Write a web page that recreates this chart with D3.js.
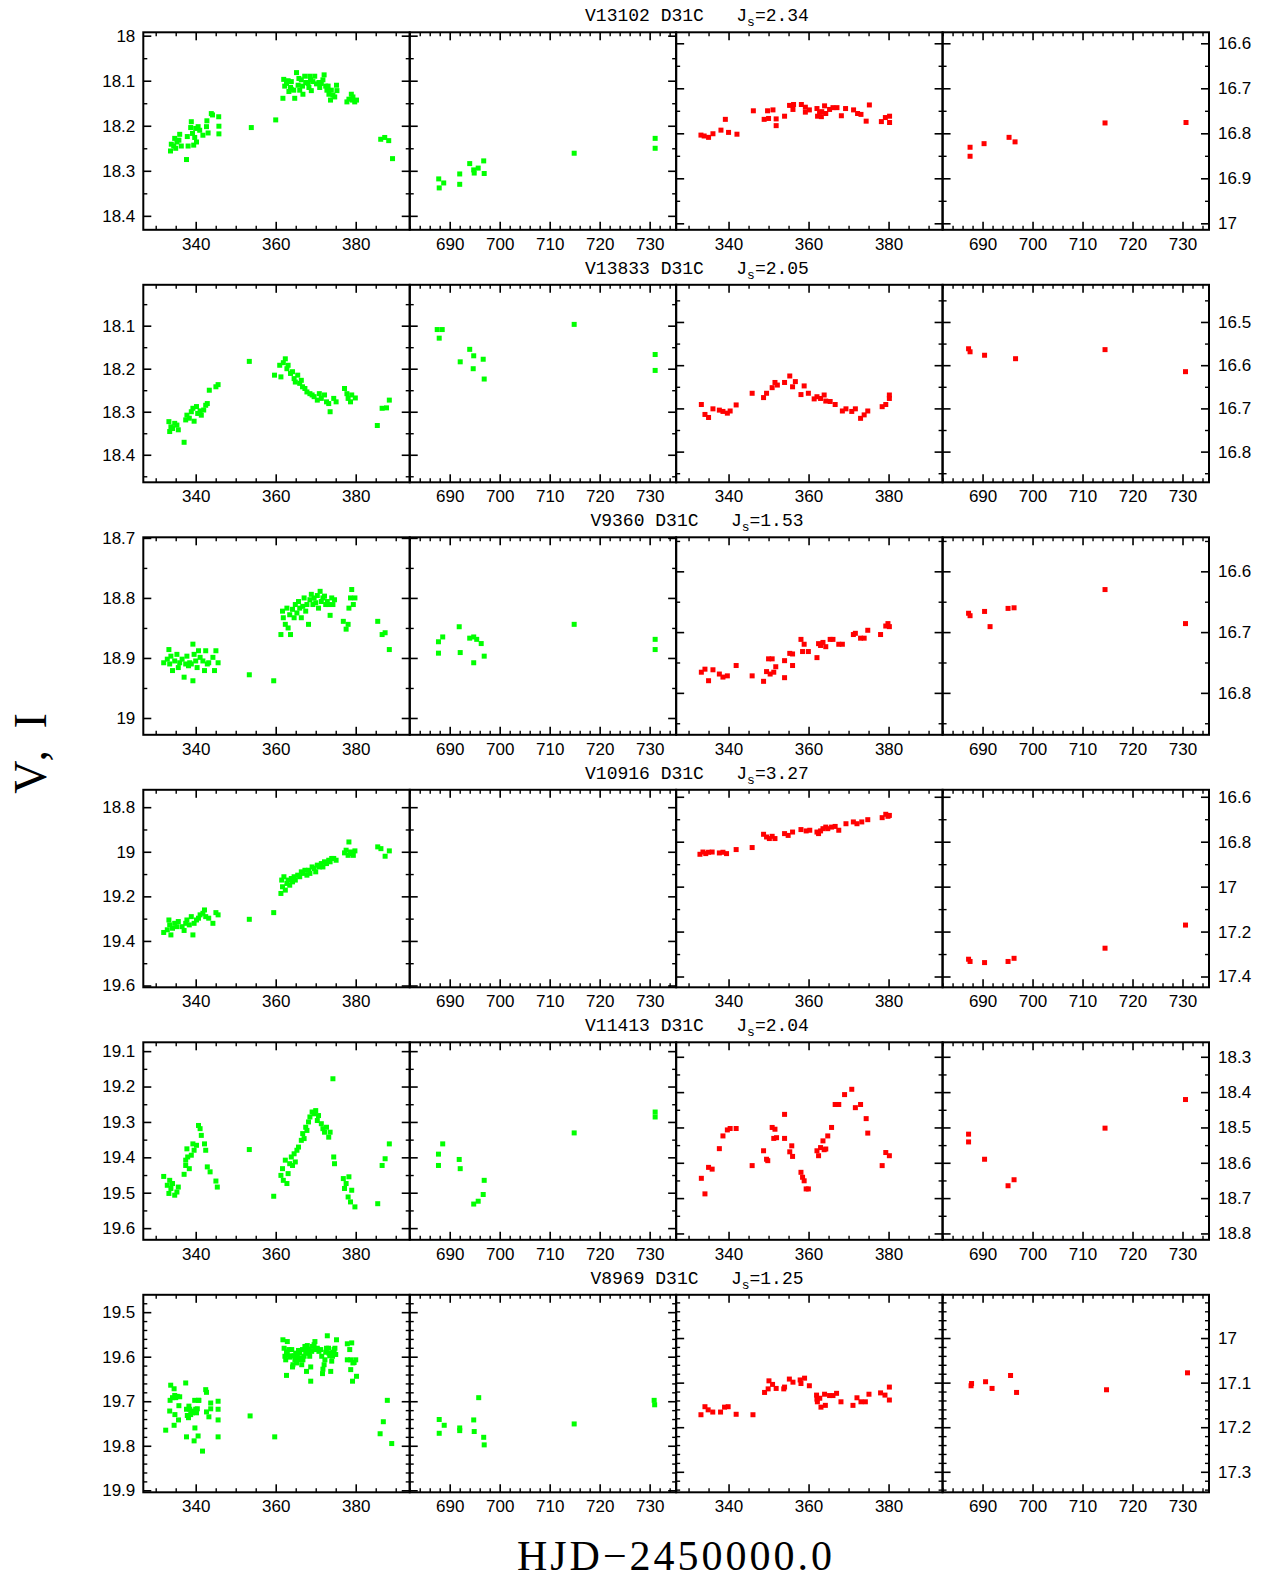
<!DOCTYPE html>
<html><head><meta charset="utf-8">
<script src="https://cdn.jsdelivr.net/npm/d3@7"></script>
<style>body{margin:0;background:#fff}</style>
</head><body>
<script>
// ---------- labels / configuration data ----------
const starNames = ["V13102 D31C","V13833 D31C","V9360 D31C","V10916 D31C","V11413 D31C","V8969 D31C"];
const jsValues = ["2.34","2.05","1.53","3.27","2.04","1.25"];
const vDomains = [[17.9925,18.431],[18.005,18.464],[18.699,19.028],[18.722,19.608],[19.075,19.633],[19.461,19.9045]];
const iDomains = [[16.5756,17.0144],[16.414,16.871],[16.544,16.869],[16.569,17.448],[18.259,18.818],[16.903,17.346]];
const majorSteps = [0.1,0.1,0.1,0.2,0.1,0.1];
const minorSteps = [0.05,0.05,0.05,0.1,0.05,0.02];
const season1Domain = [326.9, 393.5];
const season2Domain = [682, 735.3];
const season1Ticks = [340,360,380];
const season2Ticks = [690,700,710,720,730];
const season1Minor = 5;
const season2Minor = 2;
const xTitle = "HJD\u22122450000.0";
const yTitle = "V, I";

// ---------- data: [HJD-2450000, mag] ----------
const r1V1 = [[333.7,18.256],[333.9,18.241],[334.5,18.245],[334.75,18.228],[335.0,18.250],[335.3,18.236],[336.0,18.219],[335.8,18.232],[336.4,18.245],[337.7,18.275],[337.9,18.224],[338.1,18.245],[338.75,18.204],[338.9,18.191],[339.2,18.217],[339.5,18.243],[339.75,18.226],[340,18.206],[340.2,18.236],[340.6,18.202],[341,18.21],[341.8,18.221],[342.7,18.202],[342.8,18.189],[343.1,18.216],[343.9,18.173],[344.2,18.176],[345.75,18.18],[345.8,18.201],[345.8,18.218],[353.9,18.204],[360,18.187],[361.8,18.139],[362.0,18.097],[362.25,18.112],[362.7,18.106],[363.1,18.100],[363.3,18.124],[363.7,18.115],[363.9,18.102],[363.9,18.119],[364.5,18.121],[364.75,18.139],[365.2,18.082],[365.6,18.110],[365.8,18.095],[366.0,18.121],[366.4,18.098],[366.7,18.112],[366.8,18.130],[367.25,18.090],[367.5,18.104],[368.1,18.106],[368.3,18.115],[368.5,18.09],[368.7,18.098],[368.9,18.122],[369.3,18.102],[369.75,18.090],[370.2,18.107],[370.8,18.104],[371,18.115],[371.4,18.106],[371.8,18.098],[372.1,18.087],[372.5,18.112],[372.8,18.121],[373.1,18.112],[373.3,18.130],[373.7,18.143],[373.9,18.121],[374.3,18.132],[374.75,18.136],[375.2,18.110],[375.3,18.122],[377.8,18.147],[378.3,18.141],[378.9,18.130],[379.2,18.143],[379.3,18.136],[379.75,18.147],[380.2,18.143],[386.25,18.230],[387.25,18.226],[388.25,18.233],[389.2,18.273]];
const r1V2 = [[687.8,18.318],[687.9,18.338],[688.8,18.327],[692,18.307],[692,18.330],[694,18.284],[694.8,18.298],[694.9,18.305],[695.7,18.294],[696.8,18.278],[696.9,18.306],[714.9,18.261],[731.1,18.228],[731.1,18.250]];
const r1I1 = [[333.1,16.804],[333.9,16.806],[335.0,16.809],[336.1,16.801],[338.1,16.793],[339.2,16.769],[340,16.798],[342.1,16.802],[346.2,16.750],[348.9,16.769],[349.75,16.750],[350,16.767],[351.1,16.748],[351.9,16.768],[351.9,16.783],[354,16.762],[355.25,16.738],[356.1,16.747],[356.25,16.736],[358.2,16.736],[359.2,16.742],[359.2,16.753],[360.2,16.748],[362.1,16.745],[362.25,16.762],[362.75,16.753],[363.2,16.763],[363.3,16.752],[364,16.739],[364.3,16.756],[365.25,16.747],[366.1,16.743],[367.1,16.743],[368.2,16.761],[369.25,16.745],[371.25,16.748],[372.25,16.756],[373.1,16.758],[374.4,16.773],[375.2,16.737],[378.2,16.774],[379.2,16.765],[380.25,16.762],[380.25,16.776]];
const r1I2 = [[687.5,16.851],[687.5,16.831],[690.3,16.823],[695.3,16.809],[696.5,16.819],[714.5,16.777],[730.7,16.776]];

const r2V1 = [[333.3,18.323],[333.5,18.346],[333.8,18.335],[334.2,18.339],[334.75,18.327],[335.3,18.331],[335.65,18.342],[337.1,18.371],[337.5,18.319],[337.8,18.308],[338.4,18.315],[338.9,18.300],[339.3,18.292],[339.6,18.322],[340.2,18.288],[340.5,18.304],[341.1,18.298],[341.4,18.308],[342.0,18.296],[342.5,18.285],[342.9,18.281],[343.4,18.250],[345.05,18.242],[345.6,18.237],[353.4,18.183],[359.7,18.215],[361.0,18.192],[361.3,18.219],[361.9,18.186],[362.4,18.177],[362.8,18.200],[363.1,18.192],[363.7,18.211],[364.2,18.207],[364.6,18.223],[364.9,18.231],[365.5,18.215],[366.0,18.234],[366.4,18.227],[366.7,18.242],[367.3,18.246],[367.8,18.254],[368.55,18.258],[369.1,18.261],[369.6,18.265],[370.4,18.273],[370.9,18.258],[371.4,18.269],[372.2,18.261],[372.7,18.277],[373.25,18.281],[373.6,18.300],[374.5,18.269],[375.1,18.277],[377.2,18.246],[377.8,18.258],[378.1,18.269],[378.7,18.277],[379.0,18.261],[379.9,18.268],[385.4,18.332],[386.6,18.292],[387.7,18.291],[388.4,18.273]];
const r2V2 = [[687.5,18.109],[688.5,18.109],[687.9,18.129],[694.0,18.155],[694.8,18.170],[692.1,18.184],[694.7,18.200],[696.7,18.178],[696.9,18.224],[714.9,18.097],[731.1,18.167],[731.1,18.204]];
const r2I1 = [[333.2,16.691],[334.1,16.714],[335.0,16.721],[336.1,16.701],[337.7,16.704],[338.6,16.707],[339.7,16.711],[340.4,16.706],[341.9,16.692],[345.9,16.665],[348.75,16.675],[349.5,16.665],[350.9,16.652],[351.6,16.640],[352.2,16.646],[354.0,16.640],[355.3,16.625],[356.0,16.650],[356.7,16.638],[358.1,16.668],[358.9,16.648],[359.95,16.665],[361.4,16.678],[362.1,16.673],[363.0,16.677],[363.9,16.669],[364.3,16.683],[365.4,16.684],[366.65,16.691],[368.45,16.706],[369.35,16.701],[370.8,16.707],[371.7,16.701],[373.0,16.723],[373.9,16.715],[374.8,16.706],[378.4,16.696],[379.3,16.691],[380.2,16.677],[380.2,16.669]];
const r2I2 = [[687.2,16.562],[687.5,16.569],[690.4,16.577],[696.6,16.585],[714.5,16.564],[730.6,16.615]];

const r3V1 = [[332.0,18.908],[332.9,18.902],[333.3,18.886],[333.5,18.910],[333.8,18.897],[334.2,18.921],[334.75,18.905],[335.3,18.894],[335.65,18.916],[336.0,18.908],[336.6,18.902],[337.1,18.932],[337.5,18.910],[337.8,18.897],[338.2,18.913],[338.5,18.908],[338.9,18.910],[339.3,18.877],[339.3,18.938],[339.6,18.894],[340.0,18.905],[340.35,18.916],[340.7,18.888],[341.1,18.899],[341.8,18.905],[342.2,18.921],[342.5,18.888],[342.9,18.910],[343.25,18.908],[344.3,18.899],[344.7,18.921],[345.05,18.888],[345.6,18.908],[353.4,18.928],[359.5,18.938],[361.3,18.861],[361.7,18.822],[361.9,18.833],[362.4,18.844],[362.8,18.817],[363.1,18.850],[363.5,18.828],[363.7,18.861],[364.2,18.819],[364.6,18.833],[364.9,18.811],[365.3,18.825],[365.7,18.806],[366.0,18.817],[366.4,18.833],[366.75,18.814],[367.1,18.800],[367.5,18.822],[367.8,18.811],[368.2,18.844],[368.55,18.803],[368.9,18.794],[369.3,18.811],[369.6,18.800],[370.0,18.808],[370.4,18.796],[370.7,18.817],[371.1,18.789],[371.4,18.806],[371.8,18.800],[372.2,18.797],[372.5,18.811],[372.9,18.806],[373.25,18.811],[373.6,18.829],[374.0,18.800],[374.3,18.811],[374.7,18.803],[376.9,18.839],[377.6,18.852],[378.1,18.844],[378.3,18.817],[378.7,18.800],[379.0,18.786],[379.4,18.811],[379.8,18.800],[385.5,18.839],[386.6,18.861],[387.35,18.858],[388.4,18.886]];
const r3V2 = [[687.75,18.873],[688.6,18.865],[687.75,18.892],[691.9,18.848],[692.1,18.891],[694.0,18.867],[694.8,18.865],[695.4,18.869],[696.3,18.876],[696.9,18.897],[694.8,18.908],[714.9,18.844],[731.1,18.869],[731.1,18.886]];
const r3I1 = [[333.2,16.766],[334.1,16.761],[335.0,16.780],[336.1,16.762],[337.7,16.769],[338.6,16.774],[339.7,16.772],[341.9,16.755],[345.9,16.772],[348.75,16.781],[349.5,16.765],[350.0,16.744],[350.9,16.744],[350.4,16.769],[351.3,16.766],[351.8,16.757],[354.0,16.775],[354.0,16.747],[355.3,16.735],[356.0,16.755],[356.0,16.736],[358.1,16.712],[358.5,16.732],[358.9,16.720],[359.95,16.732],[362.1,16.742],[362.5,16.719],[363.0,16.722],[363.6,16.717],[364.3,16.724],[365.4,16.712],[366.1,16.712],[367.55,16.720],[368.45,16.720],[371.2,16.704],[371.7,16.702],[373.0,16.710],[373.9,16.710],[374.8,16.697],[378.0,16.704],[379.3,16.690],[379.85,16.686],[380.2,16.691]];
const r3I2 = [[687.2,16.669],[687.5,16.673],[690.4,16.666],[691.5,16.691],[695.1,16.661],[696.3,16.660],[714.5,16.630],[730.6,16.686]];

const r4V1 = [[332.0,19.362],[332.9,19.350],[333.3,19.306],[333.5,19.328],[333.8,19.373],[334.2,19.343],[334.75,19.321],[335.3,19.336],[335.65,19.313],[336.6,19.336],[337.1,19.353],[337.5,19.321],[337.8,19.306],[338.4,19.328],[338.9,19.291],[339.3,19.373],[339.6,19.321],[340.2,19.306],[340.7,19.298],[341.1,19.283],[341.8,19.276],[342.2,19.261],[342.5,19.291],[343.25,19.298],[344.3,19.321],[345.05,19.273],[345.6,19.283],[353.4,19.303],[359.5,19.273],[361.3,19.187],[361.5,19.127],[361.7,19.157],[362.05,19.112],[362.4,19.172],[362.8,19.142],[363.1,19.127],[363.5,19.150],[363.9,19.120],[364.2,19.135],[364.6,19.112],[364.9,19.127],[365.5,19.105],[366.0,19.112],[366.4,19.090],[366.75,19.097],[367.3,19.083],[367.8,19.105],[368.2,19.083],[368.55,19.097],[369.1,19.068],[369.6,19.075],[370.0,19.090],[370.4,19.060],[370.9,19.068],[371.4,19.053],[371.8,19.068],[372.2,19.045],[372.7,19.053],[373.25,19.038],[373.6,19.045],[374.0,19.030],[374.5,19.030],[375.1,19.038],[377.2,19.005],[377.6,18.993],[378.1,19.016],[378.3,18.956],[378.7,19.001],[379.0,19.008],[379.4,19.016],[379.8,18.996],[385.5,18.978],[386.3,18.986],[387.35,19.020],[388.4,18.996]];
const r4V2 = [];
const r4I1 = [[332.85,16.856],[333.6,16.846],[334.3,16.853],[335.0,16.847],[335.9,16.846],[337.7,16.850],[338.6,16.847],[339.5,16.853],[341.9,16.835],[345.9,16.826],[348.75,16.767],[349.5,16.779],[350.2,16.786],[350.9,16.776],[351.6,16.786],[354.0,16.764],[354.9,16.772],[356.0,16.757],[358.1,16.746],[359.4,16.752],[360.3,16.749],[362.1,16.757],[362.5,16.764],[363.0,16.752],[363.6,16.742],[364.3,16.735],[364.8,16.742],[365.75,16.735],[366.65,16.732],[367.55,16.749],[369.35,16.720],[371.2,16.712],[372.1,16.720],[373.3,16.712],[374.8,16.702],[378.4,16.693],[379.3,16.678],[379.85,16.687],[380.2,16.683]];
const r4I2 = [[687.2,17.323],[687.5,17.333],[690.4,17.338],[695.1,17.333],[696.3,17.319],[714.5,17.274],[730.6,17.171]];

const r5V1 = [[332.0,19.454],[332.9,19.479],[333.3,19.502],[333.5,19.465],[333.8,19.488],[334.2,19.474],[334.75,19.507],[335.3,19.498],[335.65,19.484],[337.1,19.448],[337.5,19.423],[337.5,19.408],[337.8,19.376],[338.0,19.399],[338.4,19.432],[338.9,19.394],[339.3,19.362],[339.6,19.380],[340.2,19.366],[340.7,19.310],[341.1,19.319],[341.4,19.338],[342.2,19.362],[342.5,19.380],[342.9,19.427],[343.6,19.441],[345.05,19.467],[345.4,19.484],[353.4,19.378],[359.5,19.510],[361.3,19.451],[361.7,19.432],[361.9,19.465],[362.4,19.408],[362.8,19.474],[363.1,19.446],[363.5,19.418],[363.9,19.399],[364.2,19.423],[364.6,19.390],[364.9,19.413],[365.3,19.380],[365.7,19.371],[366.4,19.352],[366.75,19.333],[367.1,19.347],[367.5,19.315],[367.8,19.324],[368.2,19.300],[368.55,19.286],[369.1,19.272],[369.6,19.277],[370.0,19.268],[370.4,19.296],[370.7,19.282],[371.4,19.305],[371.8,19.319],[372.2,19.329],[372.7,19.315],[373.25,19.343],[373.6,19.329],[374.3,19.178],[374.5,19.399],[374.7,19.418],[376.9,19.460],[377.2,19.488],[377.6,19.474],[378.1,19.512],[378.3,19.455],[378.7,19.526],[379.0,19.493],[379.8,19.540],[385.5,19.531],[386.6,19.423],[387.35,19.404],[388.4,19.362]];
const r5V2 = [[687.75,19.391],[687.75,19.423],[688.6,19.362],[691.9,19.406],[692.1,19.432],[694.8,19.532],[695.7,19.524],[696.7,19.505],[696.9,19.465],[714.9,19.331],[731.1,19.272],[731.1,19.286]];
const r5I1 = [[333.2,18.644],[334.1,18.688],[335.0,18.613],[335.9,18.618],[337.7,18.560],[338.6,18.524],[339.7,18.507],[340.4,18.503],[341.9,18.503],[345.9,18.608],[348.75,18.566],[349.5,18.590],[349.8,18.594],[350.9,18.500],[351.3,18.531],[351.6,18.505],[352.0,18.529],[354.0,18.463],[354.0,18.531],[355.3,18.569],[355.8,18.552],[356.0,18.582],[358.1,18.627],[358.5,18.641],[358.9,18.651],[359.4,18.674],[359.95,18.674],[362.1,18.566],[362.5,18.580],[363.0,18.557],[363.6,18.538],[363.9,18.563],[364.3,18.561],[364.8,18.524],[365.75,18.500],[366.65,18.435],[367.55,18.435],[369.0,18.407],[370.8,18.392],[371.7,18.444],[373.0,18.435],[374.4,18.475],[374.8,18.516],[378.4,18.608],[379.3,18.571],[380.2,18.580]];
const r5I2 = [[687.2,18.519],[687.2,18.541],[690.4,18.590],[695.1,18.665],[696.3,18.648],[714.5,18.502],[730.6,18.421]];

const r6V1 = [[332.5,19.765],[333.5,19.722],[333.6,19.698],[333.75,19.664],[334.2,19.692],[334.6,19.672],[334.6,19.754],[334.75,19.687],[334.8,19.730],[335,19.692],[335.4,19.689],[335.7,19.742],[335.8,19.710],[336,19.690],[337.5,19.659],[337.7,19.780],[337.7,19.718],[337.9,19.732],[338.2,19.737],[338.3,19.711],[338.5,19.718],[338.75,19.730],[339,19.722],[339.2,19.726],[339.6,19.789],[339.75,19.698],[339.8,19.760],[340,19.718],[340.2,19.726],[340.4,19.717],[340.6,19.778],[340.7,19.698],[340.8,19.698],[341.7,19.812],[342.5,19.674],[342.7,19.680],[342.7,19.724],[343.3,19.735],[343.75,19.704],[343.75,19.717],[345.6,19.700],[345.6,19.718],[345.6,19.742],[345.6,19.780],[353.6,19.733],[359.75,19.780],[361.8,19.562],[362.1,19.581],[362.3,19.599],[362.5,19.607],[362.7,19.589],[362.7,19.642],[362.9,19.566],[362.9,19.595],[363.3,19.584],[363.5,19.601],[363.75,19.598],[364,19.584],[364.2,19.623],[364.3,19.618],[364.6,19.598],[364.8,19.607],[365,19.592],[365.2,19.614],[365.4,19.599],[365.7,19.586],[365.8,19.607],[366,19.592],[366.25,19.603],[366.5,19.618],[366.7,19.584],[366.8,19.607],[367.1,19.599],[367.3,19.577],[367.5,19.592],[367.7,19.583],[367.7,19.633],[367.9,19.575],[368.2,19.583],[368.3,19.592],[368.5,19.599],[368.75,19.623],[368.75,19.655],[369,19.588],[369.2,19.577],[369.6,19.573],[369.8,19.566],[370,19.584],[370.4,19.581],[370.8,19.588],[371.25,19.584],[371.5,19.599],[371.7,19.638],[371.8,19.628],[372.1,19.618],[372.3,19.607],[372.5,19.590],[372.7,19.581],[372.9,19.553],[373.2,19.581],[373.3,19.592],[373.5,19.598],[373.75,19.633],[374,19.610],[374.2,19.599],[374.4,19.590],[374.6,19.584],[374.8,19.581],[375,19.595],[375.2,19.562],[377.9,19.571],[377.9,19.607],[378.5,19.584],[378.75,19.607],[378.75,19.629],[379,19.569],[379.2,19.655],[379.3,19.614],[379.6,19.613],[380,19.607],[380.2,19.644],[386.1,19.773],[386.9,19.746],[387.9,19.698],[389,19.795]];
const r6V2 = [[687.9,19.741],[687.9,19.772],[688.9,19.754],[692,19.760],[692,19.766],[694.8,19.742],[694.9,19.768],[695.8,19.692],[696.8,19.781],[696.9,19.798],[714.9,19.751],[730.9,19.698],[731.0,19.708]];
const r6I1 = [[333.1,17.172],[334.1,17.154],[334.9,17.161],[336.05,17.166],[338.0,17.166],[339.0,17.155],[339.9,17.154],[341.9,17.171],[346.1,17.172],[349.0,17.122],[349.9,17.114],[350.1,17.096],[351.0,17.104],[351.9,17.113],[353.8,17.114],[354.0,17.110],[355.2,17.092],[356.1,17.099],[357.9,17.094],[358.1,17.102],[359.0,17.090],[360.2,17.107],[362.0,17.128],[362.1,17.137],[362.2,17.143],[362.8,17.135],[363.1,17.155],[364.0,17.126],[364.2,17.151],[365.25,17.129],[366.1,17.129],[367.0,17.124],[368.1,17.143],[371.1,17.151],[372.1,17.134],[373.1,17.143],[374.2,17.143],[375.1,17.126],[378.0,17.123],[379.1,17.128],[380.2,17.110],[380.2,17.139]];
const r6I2 = [[687.7,17.107],[687.8,17.102],[690.6,17.098],[691.9,17.113],[695.6,17.084],[696.8,17.122],[714.8,17.116],[731.0,17.078]];

const rowData = [
  [r1V1, r1V2, r1I1, r1I2],
  [r2V1, r2V2, r2I1, r2I2],
  [r3V1, r3V2, r3I1, r3I2],
  [r4V1, r4V2, r4I1, r4I2],
  [r5V1, r5V2, r5I1, r5I2],
  [r6V1, r6V2, r6I1, r6I2]
];

// ---------- layout ----------
const W = 1264, H = 1581;
const plotLeft = 143.3, plotRight = 1209;
const panelW = (plotRight - plotLeft) / 4;
const top0 = 32.3, rowPitch = 252.5, panelH = 197.5;
const colors = ["#00ff00", "#00ff00", "#ff0000", "#ff0000"];
const tickFont = "'Liberation Sans', Arial, sans-serif";

const svg = d3.select("body").append("svg").attr("width", W).attr("height", H)
  .style("font-family", tickFont);

function stepValues(domain, step) {
  const lo = Math.min(domain[0], domain[1]), hi = Math.max(domain[0], domain[1]);
  const k0 = Math.ceil(lo / step - 1e-6), k1 = Math.floor(hi / step + 1e-6);
  return d3.range(k0, k1 + 1).map(k => +(k * step).toFixed(4));
}
const fmt = v => String(+v.toFixed(2));

function styleAxis(g, width) {
  g.select(".domain").remove();
  g.selectAll(".tick line").attr("stroke", "#000").attr("stroke-width", width);
  g.selectAll(".tick text").attr("fill", "#000").style("font-size", "17px").style("font-family", tickFont);
}

rowData.forEach((series, r) => {
  const ty = top0 + r * rowPitch;
  for (let c = 0; c < 4; c++) {
    const tx = plotLeft + c * panelW;
    const g = svg.append("g").attr("transform", `translate(${tx},${ty})`);
    const firstSeason = (c % 2 === 0);
    const x = d3.scaleLinear().domain(firstSeason ? season1Domain : season2Domain).range([0, panelW]);
    const yDom = c < 2 ? vDomains[r] : iDomains[r];
    const y = d3.scaleLinear().domain(yDom).range([0, panelH]);
    const majY = stepValues(yDom, majorSteps[r]);
    const minY = stepValues(yDom, minorSteps[r]).filter(v => !majY.some(m => Math.abs(m - v) < 1e-6));
    const xd = x.domain();
    const majX = firstSeason ? season1Ticks : season2Ticks;
    const minX = stepValues(xd, firstSeason ? season1Minor : season2Minor).filter(v => !majX.includes(v));

    // points
    g.append("g").selectAll("rect").data(series[c]).join("rect")
      .attr("x", d => x(d[0]) - 2.5).attr("y", d => y(d[1]) - 2.5)
      .attr("width", 5).attr("height", 5).attr("fill", colors[c]);

    // Y axes (left and right), ticks pointing inward
    const leftMaj = g.append("g").call(d3.axisLeft(y).tickValues(majY).tickSize(-8).tickPadding(8)
      .tickFormat(c === 0 ? fmt : () => ""));
    styleAxis(leftMaj, 1.6);
    styleAxis(g.append("g").call(d3.axisLeft(y).tickValues(minY).tickSize(-4).tickFormat(() => "")), 1.4);
    const rightMaj = g.append("g").attr("transform", `translate(${panelW},0)`)
      .call(d3.axisRight(y).tickValues(majY).tickSize(-8).tickPadding(9)
      .tickFormat(c === 3 ? fmt : () => ""));
    styleAxis(rightMaj, 1.6);
    styleAxis(g.append("g").attr("transform", `translate(${panelW},0)`)
      .call(d3.axisRight(y).tickValues(minY).tickSize(-4).tickFormat(() => "")), 1.4);

    // X axes (bottom with labels, top without)
    const botMaj = g.append("g").attr("transform", `translate(0,${panelH})`)
      .call(d3.axisBottom(x).tickValues(majX).tickSize(-8).tickPadding(8).tickFormat(d => String(d)));
    styleAxis(botMaj, 1.6);
    styleAxis(g.append("g").attr("transform", `translate(0,${panelH})`)
      .call(d3.axisBottom(x).tickValues(minX).tickSize(-4).tickFormat(() => "")), 1.4);
    styleAxis(g.append("g").call(d3.axisTop(x).tickValues(majX).tickSize(-8).tickFormat(() => "")), 1.6);
    styleAxis(g.append("g").call(d3.axisTop(x).tickValues(minX).tickSize(-4).tickFormat(() => "")), 1.4);

    // frame
    g.append("rect").attr("x", 0).attr("y", 0).attr("width", panelW).attr("height", panelH)
      .attr("fill", "none").attr("stroke", "#000").attr("stroke-width", 2);
  }

  // row title
  const t = svg.append("text").attr("x", 697).attr("y", ty - 11)
    .attr("text-anchor", "middle")
    .style("font-family", "'Liberation Mono', 'Courier New', monospace")
    .style("font-size", "18px").attr("fill", "#000");
  t.append("tspan").text(starNames[r] + "\u00a0\u00a0\u00a0J");
  t.append("tspan").attr("dy", 5).style("font-size", "13px").text("s");
  t.append("tspan").attr("dy", -5).text("=" + jsValues[r]);
});

// axis titles
svg.append("text").attr("x", 676).attr("y", 1570).attr("text-anchor", "middle")
  .style("font-family", "'Liberation Serif', 'Times New Roman', serif")
  .style("font-size", "42px").style("letter-spacing", "3px").attr("fill", "#000")
  .text(xTitle);
svg.append("text").attr("transform", "translate(46,751) rotate(-90)").attr("text-anchor", "middle")
  .style("font-family", "'Liberation Serif', 'Times New Roman', serif")
  .style("font-size", "46px").style("letter-spacing", "5px").attr("fill", "#000")
  .text(yTitle);
</script>
</body></html>
